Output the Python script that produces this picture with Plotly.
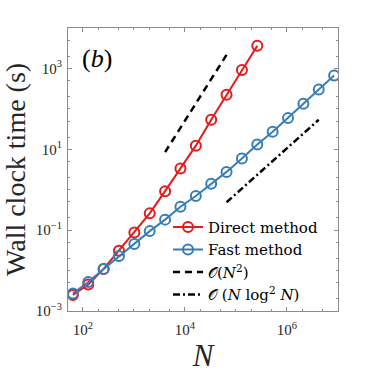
import plotly.graph_objects as go

# Data
N_direct = [64, 128, 256, 512, 1024, 2048, 4096, 8192, 16384, 32768, 65536, 131072, 262144]
t_direct = [0.0025, 0.0045, 0.011, 0.031, 0.087, 0.26, 0.92, 3.35, 12.3, 53.7, 224, 912, 3650]

N_fast = [64, 128, 256, 512, 1024, 2048, 4096, 8192, 16384, 32768, 65536, 131072,
          262144, 524288, 1048576, 2097152, 4194304, 8388608]
t_fast = [0.0027, 0.0052, 0.0109, 0.0228, 0.0452, 0.0946, 0.182, 0.378, 0.697, 1.40,
          2.76, 5.90, 13.2, 27.2, 59.0, 133, 300, 667]

N2_x = [4096, 65536]
N2_y = [8.5, 2170]
NlogN_x = [65536, 4194304]
NlogN_y = [0.49, 53.7]

x_ticks = [1e2, 1e4, 1e6]
x_ticktext = ["10<sup>2</sup>", "10<sup>4</sup>", "10<sup>6</sup>"]
y_ticks = [1e-3, 1e-1, 1e1, 1e3]
y_ticktext = ["10<sup>−3</sup>", "10<sup>−1</sup>", "10<sup>1</sup>", "10<sup>3</sup>"]

RED = "#e41a1c"
BLUE = "#377eb8"
FONT = "Liberation Serif"
LEGFONT = "DejaVu Serif"

W, H = 374, 374
ML, MR, MT, MB = 68, 36, 28, 55
PW, PH = W - ML - MR, H - MT - MB

fig = go.Figure()
fig.add_trace(go.Scatter(x=N_direct, y=t_direct, mode="lines+markers", name="Direct method",
                         line=dict(color=RED, width=2),
                         marker=dict(symbol="circle-open", size=10, line=dict(width=2, color=RED))))
fig.add_trace(go.Scatter(x=N_fast, y=t_fast, mode="lines+markers", name="Fast method",
                         line=dict(color=BLUE, width=2),
                         marker=dict(symbol="circle-open", size=10, line=dict(width=2, color=BLUE))))
fig.add_trace(go.Scatter(x=N2_x, y=N2_y, mode="lines", name="𝒪(<i>N</i><sup>2</sup>)",
                         line=dict(color="black", width=2.5, dash="7px,5px")))
fig.add_trace(go.Scatter(x=NlogN_x, y=NlogN_y, mode="lines",
                         name="𝒪 (<i>N</i> log<sup>2</sup> <i>N</i>)",
                         line=dict(color="black", width=2.5, dash="7px,3px,2px,3px")))

axis_common = dict(type="log", showline=True, linecolor="#8c8c8c", linewidth=1,
                   mirror="allticks", ticks="inside", ticklen=4, tickcolor="#8c8c8c",
                   showgrid=False, zeroline=False,
                   tickfont=dict(family=FONT, size=15, color="#262626"),
                   minor=dict(ticks="inside", ticklen=2, tickcolor="#8c8c8c", showgrid=False))

fig.update_xaxes(**axis_common, range=[1.71, 7.0], tickvals=x_ticks, ticktext=x_ticktext,
                 ticklabelstandoff=5,
                 title=dict(text="<i>N</i>", font=dict(family=FONT, size=31, color="#262626"), standoff=2))
fig.update_yaxes(**axis_common, range=[-3, 4], tickvals=y_ticks, ticktext=y_ticktext,
                 ticklabelstandoff=2)

# y-axis title placed as a rotated annotation for exact positioning
fig.add_annotation(x=(16 - ML) / PW, y=(H - MB - 174) / PH, xref="paper", yref="paper",
                   text="Wall clock time (s)", textangle=-90, showarrow=False,
                   xanchor="center", yanchor="middle",
                   font=dict(family=FONT, size=28, color="#262626"))

fig.add_annotation(x=(97 - ML) / PW, y=(H - MB - 59) / PH, xref="paper", yref="paper",
                   text="(<i>b</i>)", showarrow=False, xanchor="center", yanchor="middle",
                   font=dict(family=FONT, size=26, color="black"))

fig.update_layout(width=W, height=H, margin=dict(l=ML, r=MR, t=MT, b=MB),
                  paper_bgcolor="white", plot_bgcolor="white",
                  legend=dict(x=(168 - ML) / PW, y=(H - MB - 216) / PH, xanchor="left", yanchor="top",
                              bgcolor="rgba(0,0,0,0)",
                              font=dict(family=LEGFONT, size=15, color="black"), itemwidth=30,
                              tracegroupgap=0),
                  showlegend=True)

fig.write_html("out.html", config={"displayModeBar": False})

# remove the default browser body margin so the figure sits at the page origin
with open("out.html", "r", encoding="utf-8") as f:
    html = f.read()
html = html.replace("<head>", "<head><style>html,body{margin:0;padding:0;overflow:hidden;}</style>", 1)
with open("out.html", "w", encoding="utf-8") as f:
    f.write(html)
